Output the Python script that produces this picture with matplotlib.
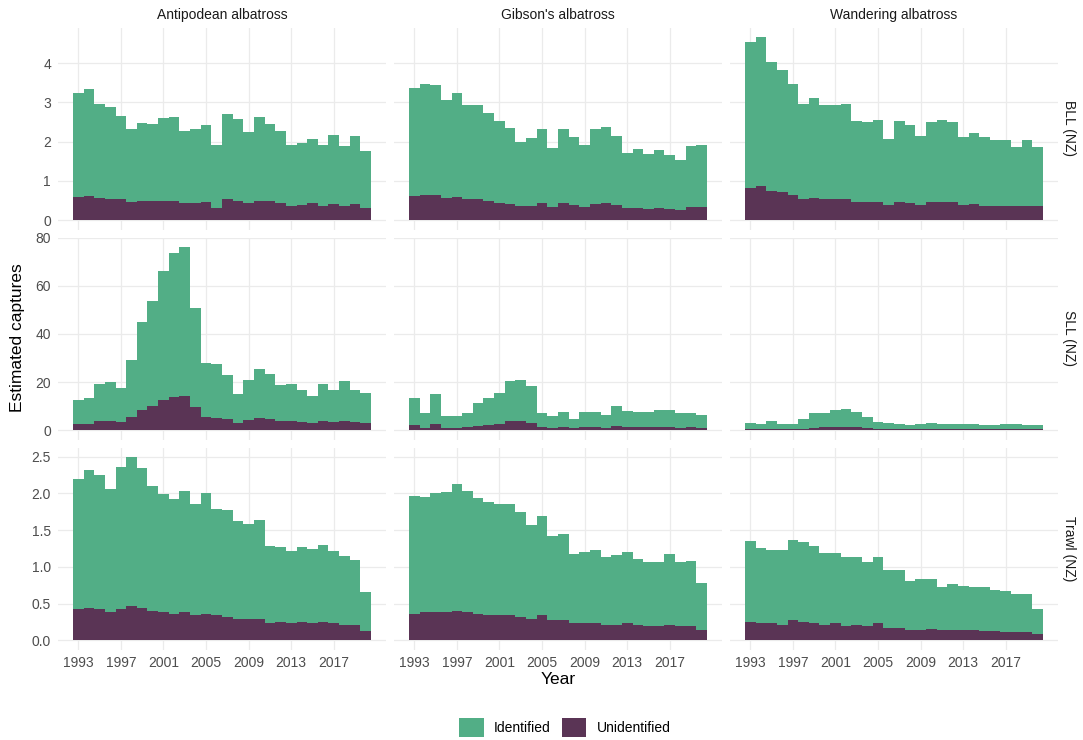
import matplotlib
matplotlib.use("Agg")
import matplotlib.pyplot as plt
from matplotlib.patches import Patch
import numpy as np

plt.rcParams['font.family'] = ['Liberation Sans', 'DejaVu Sans']

years = list(range(1993, 2021))
species = ["Antipodean albatross", "Gibson's albatross", "Wandering albatross"]
fisheries = ["BLL (NZ)", "SLL (NZ)", "Trawl (NZ)"]

# totals (identified + unidentified) and unidentified part
bll_antipodean_total = [3.25, 3.35, 2.97, 2.89, 2.66, 2.33, 2.48, 2.46, 2.61, 2.64, 2.28, 2.31, 2.43, 1.92,
                        2.71, 2.58, 2.25, 2.64, 2.46, 2.28, 1.92, 1.97, 2.08, 1.92, 2.18, 1.90, 2.15, 1.77]
bll_antipodean_unid = [0.60, 0.63, 0.58, 0.55, 0.53, 0.46, 0.48, 0.48, 0.50, 0.50, 0.43, 0.43, 0.46, 0.32,
                       0.53, 0.48, 0.43, 0.48, 0.48, 0.43, 0.36, 0.38, 0.43, 0.36, 0.41, 0.36, 0.41, 0.32]
bll_gibsons_total = [3.37, 3.47, 3.45, 3.07, 3.25, 2.92, 2.94, 2.74, 2.53, 2.36, 2.00, 2.10, 2.31, 1.85,
                     2.31, 2.13, 1.92, 2.31, 2.38, 2.15, 1.72, 1.82, 1.69, 1.80, 1.67, 1.54, 1.90, 1.92]
bll_gibsons_unid = [0.63, 0.65, 0.65, 0.58, 0.60, 0.55, 0.53, 0.50, 0.45, 0.42, 0.37, 0.37, 0.45, 0.35,
                    0.45, 0.40, 0.35, 0.42, 0.45, 0.40, 0.32, 0.32, 0.30, 0.32, 0.30, 0.27, 0.35, 0.35]
bll_wandering_total = [4.54, 4.67, 4.03, 3.81, 3.47, 2.97, 3.12, 2.94, 2.94, 2.97, 2.53, 2.51, 2.56, 2.08,
                       2.53, 2.43, 2.15, 2.51, 2.56, 2.51, 2.13, 2.23, 2.13, 2.05, 2.05, 1.87, 2.05, 1.87]
bll_wandering_unid = [0.83, 0.88, 0.75, 0.73, 0.65, 0.55, 0.58, 0.55, 0.55, 0.55, 0.47, 0.47, 0.47, 0.40,
                      0.47, 0.45, 0.40, 0.47, 0.47, 0.47, 0.40, 0.42, 0.37, 0.37, 0.37, 0.37, 0.37, 0.37]

sll_antipodean_total = [12.4, 13.6, 19.1, 19.9, 17.4, 29.1, 44.9, 53.8, 66.2, 73.7, 76.2, 50.8, 27.8, 27.4,
                        22.8, 14.9, 20.7, 25.3, 23.2, 18.6, 19.1, 16.6, 14.1, 19.1, 16.6, 20.3, 16.6, 15.3]
sll_antipodean_unid = [2.5, 2.5, 3.8, 3.8, 3.3, 5.4, 8.3, 10.0, 12.5, 13.8, 14.2, 9.6, 5.4, 5.0,
                       4.6, 2.9, 4.2, 5.0, 4.6, 3.8, 3.8, 3.3, 2.9, 3.8, 3.3, 3.8, 3.3, 2.9]
sll_gibsons_total = [13.6, 7.0, 14.9, 6.1, 6.1, 7.0, 11.5, 13.6, 15.3, 20.3, 20.7, 18.2, 7.0, 6.1,
                     7.4, 4.9, 7.4, 7.4, 6.5, 9.9, 8.2, 7.8, 7.8, 8.6, 8.6, 7.0, 7.0, 6.5]
sll_gibsons_unid = [2.4, 1.1, 2.8, 1.1, 1.1, 1.5, 1.9, 2.4, 2.8, 4.0, 4.0, 3.2, 1.5, 1.1,
                    1.5, 1.1, 1.5, 1.5, 1.1, 1.9, 1.5, 1.5, 1.5, 1.5, 1.5, 1.1, 1.5, 1.1]
sll_wandering_total = [3.2, 2.8, 4.0, 2.8, 2.8, 4.5, 7.0, 7.0, 8.6, 9.0, 7.8, 5.7, 3.6, 3.2,
                       2.8, 2.4, 2.8, 3.2, 2.8, 2.8, 2.8, 2.8, 2.4, 2.4, 2.8, 2.8, 2.4, 2.4]
sll_wandering_unid = [0.7, 0.7, 0.7, 0.7, 0.7, 0.7, 1.1, 1.5, 1.5, 1.5, 1.5, 1.1, 0.7, 0.7,
                      0.7, 0.7, 0.7, 0.7, 0.7, 0.7, 0.7, 0.7, 0.7, 0.7, 0.7, 0.7, 0.7, 0.7]

trawl_antipodean_total = [2.20, 2.32, 2.25, 2.06, 2.36, 2.50, 2.35, 2.10, 1.99, 1.92, 2.03, 1.86, 2.01, 1.79,
                          1.78, 1.63, 1.59, 1.64, 1.29, 1.27, 1.22, 1.27, 1.25, 1.30, 1.22, 1.15, 1.10, 0.66]
trawl_antipodean_unid = [0.43, 0.44, 0.42, 0.38, 0.43, 0.47, 0.44, 0.40, 0.38, 0.36, 0.39, 0.35, 0.36, 0.34,
                         0.32, 0.29, 0.29, 0.29, 0.23, 0.25, 0.24, 0.25, 0.23, 0.25, 0.23, 0.21, 0.21, 0.13]
trawl_gibsons_total = [1.97, 1.95, 2.01, 2.02, 2.13, 2.03, 1.94, 1.88, 1.86, 1.86, 1.75, 1.57, 1.69, 1.42,
                       1.45, 1.18, 1.20, 1.23, 1.14, 1.16, 1.20, 1.11, 1.07, 1.07, 1.18, 1.07, 1.08, 0.78]
trawl_gibsons_unid = [0.36, 0.38, 0.38, 0.38, 0.40, 0.38, 0.36, 0.35, 0.35, 0.35, 0.32, 0.29, 0.34, 0.27,
                      0.27, 0.23, 0.23, 0.23, 0.21, 0.21, 0.23, 0.21, 0.20, 0.20, 0.21, 0.20, 0.20, 0.14]
trawl_wandering_total = [1.35, 1.26, 1.23, 1.23, 1.37, 1.34, 1.29, 1.19, 1.19, 1.14, 1.14, 1.06, 1.14, 0.96,
                         0.96, 0.81, 0.84, 0.84, 0.72, 0.76, 0.74, 0.73, 0.72, 0.69, 0.67, 0.63, 0.63, 0.42]
trawl_wandering_unid = [0.25, 0.24, 0.23, 0.21, 0.27, 0.25, 0.24, 0.21, 0.23, 0.20, 0.21, 0.20, 0.23, 0.17,
                        0.17, 0.14, 0.14, 0.16, 0.14, 0.14, 0.14, 0.14, 0.13, 0.13, 0.12, 0.12, 0.12, 0.09]

panels = [
    [(bll_antipodean_total, bll_antipodean_unid), (bll_gibsons_total, bll_gibsons_unid),
     (bll_wandering_total, bll_wandering_unid)],
    [(sll_antipodean_total, sll_antipodean_unid), (sll_gibsons_total, sll_gibsons_unid),
     (sll_wandering_total, sll_wandering_unid)],
    [(trawl_antipodean_total, trawl_antipodean_unid), (trawl_gibsons_total, trawl_gibsons_unid),
     (trawl_wandering_total, trawl_wandering_unid)],
]
row_ticks = [[0, 1, 2, 3, 4], [0, 20, 40, 60, 80], [0.0, 0.5, 1.0, 1.5, 2.0, 2.5]]
row_ticklabels = [["0", "1", "2", "3", "4"], ["0", "20", "40", "60", "80"],
                  ["0.0", "0.5", "1.0", "1.5", "2.0", "2.5"]]
year_ticks = [1993, 1997, 2001, 2005, 2009, 2013, 2017]

col_ident = "#52AE86"
col_unid = "#5A3455"
grid_col = "#EBEBEB"
txt_col = "#4D4D4D"

W, H = 1083, 740
fig = plt.figure(figsize=(W / 100, H / 100), dpi=100)

col_left = [58, 394, 730]
pw = 328
row_top = [27.5, 237.5, 447.5]
ph = 202

x = np.array(years)
for r in range(3):
    rmax = max(max(t) for t, u in panels[r])
    for c in range(3):
        total, unid = panels[r][c]
        total = np.array(total)
        unid = np.array(unid)
        ax = fig.add_axes([col_left[c] / W, 1 - (row_top[r] + ph) / H, pw / W, ph / H])
        ax.bar(x, unid, width=1.0, color=col_unid, linewidth=0, zorder=2)
        ax.bar(x, total - unid, bottom=unid, width=1.0, color=col_ident, linewidth=0, zorder=2)
        ax.set_xlim(1992.5 - 1.4, 2020.5 + 1.4)
        ax.set_ylim(-0.05 * rmax, 1.05 * rmax)
        ax.set_yticks(row_ticks[r])
        ax.set_xticks(year_ticks)
        ax.grid(True, color=grid_col, linewidth=0.9, zorder=0)
        ax.set_axisbelow(True)
        for s in ax.spines.values():
            s.set_visible(False)
        ax.tick_params(length=0, labelsize=10, labelcolor=txt_col, pad=5)
        if c == 0:
            ax.set_yticklabels(row_ticklabels[r])
        else:
            ax.set_yticklabels([])
        if r == 2:
            ax.set_xticklabels([str(y) for y in year_ticks])
        else:
            ax.set_xticklabels([])
        if r == 0:
            ax.set_title(species[c], fontsize=10, color="#1A1A1A", pad=6)
        if c == 2:
            ax.text(1.035, 0.5, fisheries[r], transform=ax.transAxes, rotation=270,
                    ha="center", va="center", fontsize=10, color="#1A1A1A")

fig.text(18 / W, 1 - 338 / H, "Estimated captures", rotation=90, ha="center", va="center",
         fontsize=12.5, color="black")
fig.text(558 / W, 1 - 679 / H, "Year", ha="center", va="center", fontsize=12.5, color="black")

handles = [Patch(facecolor=col_ident, edgecolor="none", label="Identified"),
           Patch(facecolor=col_unid, edgecolor="none", label="Unidentified")]
fig.legend(handles=handles, loc="center", bbox_to_anchor=(565 / W, 1 - 727.5 / H), ncol=2,
           frameon=False, fontsize=10, handlelength=1.75, handleheight=1.75,
           handletextpad=0.75, columnspacing=0.8)

fig.savefig("out.png", dpi=100, facecolor="white")
